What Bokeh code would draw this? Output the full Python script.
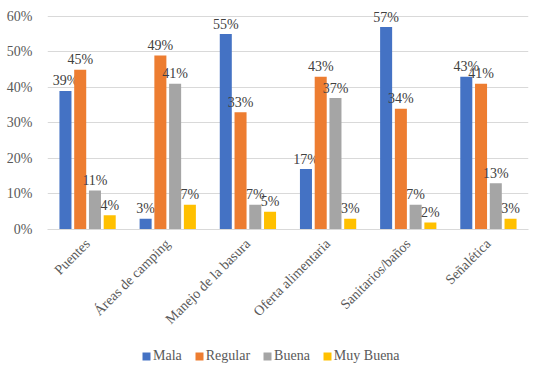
from bokeh.plotting import figure
from bokeh.layouts import column
from bokeh.models import ColumnDataSource, FactorRange, Legend, LegendItem, NumeralTickFormatter, FixedTicker
from bokeh.transform import dodge
from bokeh.core.properties import value
from bokeh.embed import file_html
from bokeh.resources import INLINE
from math import pi

categories = ["Puentes", "Áreas de camping", "Manejo de la basura", "Oferta alimentaria", "Sanitarios/baños", "Señalética"]
series = ["Mala", "Regular", "Buena", "Muy Buena"]
mala = [0.39, 0.03, 0.55, 0.17, 0.57, 0.43]
regular = [0.45, 0.49, 0.33, 0.43, 0.34, 0.41]
buena = [0.11, 0.41, 0.07, 0.37, 0.07, 0.13]
muy_buena = [0.04, 0.07, 0.05, 0.03, 0.02, 0.03]
colors = ["#4472C4", "#ED7D31", "#A5A5A5", "#FFC000"]
yticks = [0, 0.1, 0.2, 0.3, 0.4, 0.5, 0.6]

data = {"cat": categories, "Mala": mala, "Regular": regular, "Buena": buena, "Muy Buena": muy_buena}
for s in series:
    data[s + "_lbl"] = ["%d%%" % round(v * 100) for v in data[s]]
src = ColumnDataSource(data)

FONT = "Liberation Serif"
# frame spans 231 px; 60% gridline sits 16 px below the frame top so labels above it are not clipped
y_end = 0.6 * 231 / 215
p = figure(x_range=FactorRange(*categories), y_range=(0, y_end), width=544, height=335,
           output_backend="svg", toolbar_location=None,
           min_border_left=47, min_border_right=16, min_border_top=0, min_border_bottom=104)
p.outline_line_color = None
p.xgrid.grid_line_color = None
p.ygrid.grid_line_color = "#D9D9D9"
p.yaxis.ticker = FixedTicker(ticks=yticks)
p.yaxis.formatter = NumeralTickFormatter(format="0%")
p.yaxis.axis_line_color = None
p.yaxis.major_tick_line_color = None
p.yaxis.minor_tick_line_color = None
p.xaxis.axis_line_color = "#D9D9D9"
p.xaxis.major_tick_line_color = None
p.xaxis.minor_tick_line_color = None
p.xaxis.major_label_orientation = pi / 4
for ax in (p.xaxis, p.yaxis):
    ax.major_label_text_font = FONT
    ax.major_label_text_font_size = "14px"
    ax.major_label_text_color = "#595959"
p.yaxis.major_label_standoff = 9
p.xaxis.major_label_standoff = 6

offsets = [-0.276, -0.092, 0.092, 0.276]
for s, c, off in zip(series, colors, offsets):
    p.vbar(x=dodge("cat", off, range=p.x_range), top=s, width=0.15, source=src,
           fill_color=c, line_color=None)
    p.text(x=dodge("cat", off, range=p.x_range), y=s, text=s + "_lbl", source=src,
           text_font=value(FONT), text_font_size="14px", text_color="#404040",
           text_align="center", text_baseline="alphabetic", y_offset=-10)

# legend strip below the chart
lf = figure(width=544, height=42, x_range=(0, 1), y_range=(0, 1), output_backend="svg",
            toolbar_location=None, min_border=0, x_axis_location=None, y_axis_location=None)
lf.grid.visible = False
lf.outline_line_color = None
items = []
for s, c in zip(series, colors):
    r = lf.quad(left=[-5], right=[-4], bottom=[-5], top=[-4], fill_color=c, line_color=None)
    items.append(LegendItem(label=s, renderers=[r]))
legend = Legend(items=items, orientation="horizontal", location=(94, 13),
                label_text_font=FONT, label_text_font_size="14px", label_text_color="#595959",
                glyph_width=10, glyph_height=10, spacing=12, label_standoff=2,
                border_line_color=None, background_fill_alpha=0, padding=0, margin=0)
lf.add_layout(legend, "center")

layout = column(p, lf, spacing=0)
open("out.html", "w").write(file_html(layout, INLINE))
